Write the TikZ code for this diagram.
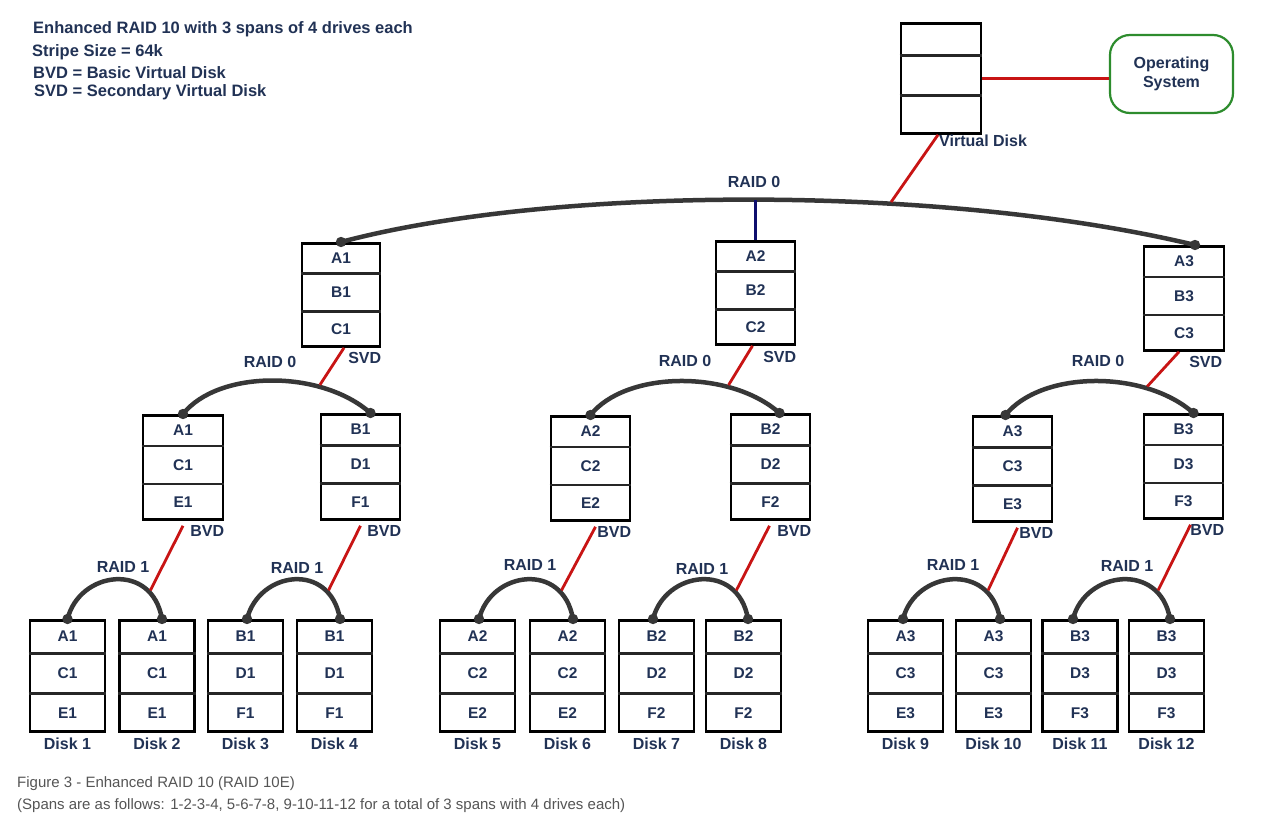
\documentclass[tikz,border=0pt]{standalone}
\usepackage{fontspec}
\setmainfont{Liberation Sans}
\usetikzlibrary{calc}
\definecolor{navy}{RGB}{33,50,85}
\definecolor{curvegray}{RGB}{55,55,55}
\definecolor{redl}{RGB}{200,20,20}
\definecolor{bluel}{RGB}{15,15,110}
\definecolor{greenl}{RGB}{45,140,45}
\definecolor{capgray}{RGB}{85,85,85}
\tikzset{
  box/.style={draw=black, line width=2.8pt, fill=white, inner sep=0pt},
  divider/.style={draw=black!85, line width=2.8pt},
  cell/.style={text=navy, font=\fontsize{15.5}{18}\selectfont\bfseries, inner sep=0pt},
  lbl/.style={text=navy, font=\fontsize{16}{19}\selectfont\bfseries, inner sep=0pt},
  hdr/.style={text=navy, font=\fontsize{16.5}{19}\selectfont\bfseries, inner sep=0pt, anchor=base west},
  captxt/.style={text=capgray, font=\fontsize{15}{18}\selectfont, inner sep=0pt, anchor=base west},
  raid/.style={draw=curvegray, line width=4.5pt, line cap=round},
  redline/.style={draw=redl, line width=2.8pt, shorten >=2pt},
}
\newcommand\stackbox[8]{%
  \node[box, minimum width=#4pt, minimum height=#5pt, anchor=north] (#1) at (#2,#3) {};
  \draw[divider] ($(#1.north west)!0.30!(#1.south west)$) -- ($(#1.north east)!0.30!(#1.south east)$);
  \draw[divider] ($(#1.north west)!0.655!(#1.south west)$) -- ($(#1.north east)!0.655!(#1.south east)$);
  \node[cell] (#1-a) at ($(#1.north)!0.15!(#1.south)$) {#6};
  \node[cell] (#1-b) at ($(#1.north)!0.4775!(#1.south)$) {#7};
  \node[cell] (#1-c) at ($(#1.north)!0.8275!(#1.south)$) {#8};
}
\newcommand\rdot[1]{\fill[curvegray] #1 circle (5.2pt);}
\begin{document}
\begin{tikzpicture}[x=1pt,y=-1pt]
\useasboundingbox[fill=white] (0,0) rectangle (1272,824);

% header
\node[hdr] (h1) at (33,33.5) {Enhanced RAID 10 with 3 spans of 4 drives each};
\node[hdr] (h2) at (32,57) {Stripe Size = 64k};
\node[hdr] (h3) at (33,79) {BVD = Basic Virtual Disk};
\node[hdr] (h4) at (34,97) {SVD = Secondary Virtual Disk};

% virtual disk and OS
\stackbox{vd}{941}{22}{80}{110}{}{}{}
\node[draw=greenl, line width=2.2pt, rounded corners=20pt, minimum width=123pt, minimum height=78pt,
      align=center, text=navy, font=\fontsize{16}{19}\selectfont\bfseries] (os) at (1171.5,74) {Operating\\System};
\draw[redl, line width=2.8pt] (vd.east) -- (vd.east -| os.west);
\node[lbl, anchor=west] (vdl) at (939,141) {Virtual Disk};

% secondary virtual disks
\stackbox{svd1}{341}{242}{78}{103}{A1}{B1}{C1}
\stackbox{svd2}{755.5}{240}{79}{103}{A2}{B2}{C2}
\stackbox{svd3}{1184}{245}{80}{104}{A3}{B3}{C3}
\node[lbl, anchor=east] (svdl1) at ([yshift=-10pt]svd1.south east) {SVD};
\node[lbl, anchor=east] (svdl2) at ([yshift=-11pt]svd2.south east) {SVD};
\node[lbl, anchor=east] (svdl3) at ([xshift=-3pt,yshift=-10pt]svd3.south east) {SVD};

% basic virtual disks
\stackbox{bvd1a}{183}{414}{80}{104}{A1}{C1}{E1}
\stackbox{bvd1b}{360.5}{413}{79}{105}{B1}{D1}{F1}
\stackbox{bvd2a}{590.5}{415}{79}{104}{A2}{C2}{E2}
\stackbox{bvd2b}{770.5}{413}{79}{105}{B2}{D2}{F2}
\stackbox{bvd3a}{1012.5}{415}{79}{105}{A3}{C3}{E3}
\stackbox{bvd3b}{1183.5}{413}{79}{104}{B3}{D3}{F3}
\foreach \n in {bvd1a,bvd1b,bvd2a,bvd2b,bvd3a,bvd3b}
  \node[lbl, anchor=east] (\n-l) at ([yshift=-10pt]\n.south east) {BVD};

% disks
\foreach \n/\x/\a/\b/\c in {1/67.5/A1/C1/E1, 2/157/A1/C1/E1, 3/245.5/B1/D1/F1, 4/334.5/B1/D1/F1,
  5/477.5/A2/C2/E2, 6/567.5/A2/C2/E2, 7/656.5/B2/D2/F2, 8/743.5/B2/D2/F2,
  9/905.5/A3/C3/E3, 10/993.5/A3/C3/E3, 11/1080/B3/D3/F3, 12/1166.5/B3/D3/F3}{
  \stackbox{d\n}{\x}{619}{75}{111}{\a}{\b}{\c}
  \node[lbl] (dl\n) at ([yshift=-11pt]d\n.south) {Disk \n};
}

% top RAID 0
\draw[raid] (svd1.north) .. controls +(214,-57) and +(-250,-60) .. ([xshift=11pt]svd3.north)
  coordinate[pos=0.5] (tmid) coordinate[pos=0.645] (tred);
\rdot{(svd1.north)} \rdot{([xshift=11pt]svd3.north)}
\node[lbl] (r0top) at (754,182) {RAID 0};
\draw[bluel, line width=2.8pt] (svd2.north) -- (svd2.north |- tmid);
\draw[redline] ([xshift=-3pt]vd.south) -- (tred);

% mid RAID 0
\draw[raid] (bvd1a.north) .. controls +(35,-44) and +(-50,-44) .. ([xshift=10pt]bvd1b.north) coordinate[pos=0.72] (m1);
\draw[raid] (bvd2a.north) .. controls +(35,-44) and +(-50,-44) .. ([xshift=9pt]bvd2b.north) coordinate[pos=0.72] (m2);
\draw[raid] ([xshift=-7pt]bvd3a.north) .. controls +(35,-44) and +(-50,-44) .. ([xshift=10pt]bvd3b.north) coordinate[pos=0.74] (m3);
\rdot{(bvd1a.north)} \rdot{([xshift=10pt]bvd1b.north)}
\rdot{(bvd2a.north)} \rdot{([xshift=9pt]bvd2b.north)}
\rdot{([xshift=-7pt]bvd3a.north)} \rdot{([xshift=10pt]bvd3b.north)}
\node[lbl] (r0a) at (270,362) {RAID 0};
\node[lbl] (r0b) at (685,361) {RAID 0};
\node[lbl] (r0c) at (1098,361) {RAID 0};
\draw[redline] ([xshift=3pt]svd1.south) -- (m1);
\draw[redline] ([xshift=-3pt]svd2.south) -- (m2);
\draw[redline] ([xshift=-5pt]svd3.south) -- (m3);

% RAID 1 curves
\foreach \i/\l/\r/\ls/\rs in {1/1/2/0/5, 2/3/4/1.5/5.5, 3/5/6/1.5/5.5, 4/7/8/-3.5/4.5, 5/9/10/-2.5/6.5, 6/11/12/-7/3.5}{
  \draw[raid] ([xshift=\ls pt]d\l.north) .. controls +(12,-48) and +(-10,-58) .. ([xshift=\rs pt]d\r.north)
    coordinate[pos=0.8] (r\i);
  \rdot{([xshift=\ls pt]d\l.north)} \rdot{([xshift=\rs pt]d\r.north)}
}
\node[lbl] (r1a) at (123,567) {RAID 1};
\node[lbl] (r1b) at (297,568) {RAID 1};
\node[lbl] (r1c) at (530,565) {RAID 1};
\node[lbl] (r1d) at (702,569) {RAID 1};
\node[lbl] (r1e) at (953,565) {RAID 1};
\node[lbl] (r1f) at (1127,566) {RAID 1};
\draw[redline] ([yshift=-5pt]bvd1a.south) -- (r1);
\draw[redline] ([yshift=-5pt]bvd1b.south) -- (r2);
\draw[redline] ([xshift=5pt,yshift=-5pt]bvd2a.south) -- (r3);
\draw[redline] ([xshift=-1pt,yshift=-5pt]bvd2b.south) -- (r4);
\draw[redline] ([xshift=5pt,yshift=-5pt]bvd3a.south) -- (r5);
\draw[redline] ([xshift=7pt,yshift=-5pt]bvd3b.south) -- (r6);

% caption
\node[captxt] (cap1) at (17,787) {Figure 3 - Enhanced RAID 10 (RAID 10E)};
\node[captxt] (cap2) at (17,809) {(Spans are as follows: 1-2-3-4, 5-6-7-8, 9-10-11-12 for a total of 3 spans with 4 drives each)};
\end{tikzpicture}
\end{document}
